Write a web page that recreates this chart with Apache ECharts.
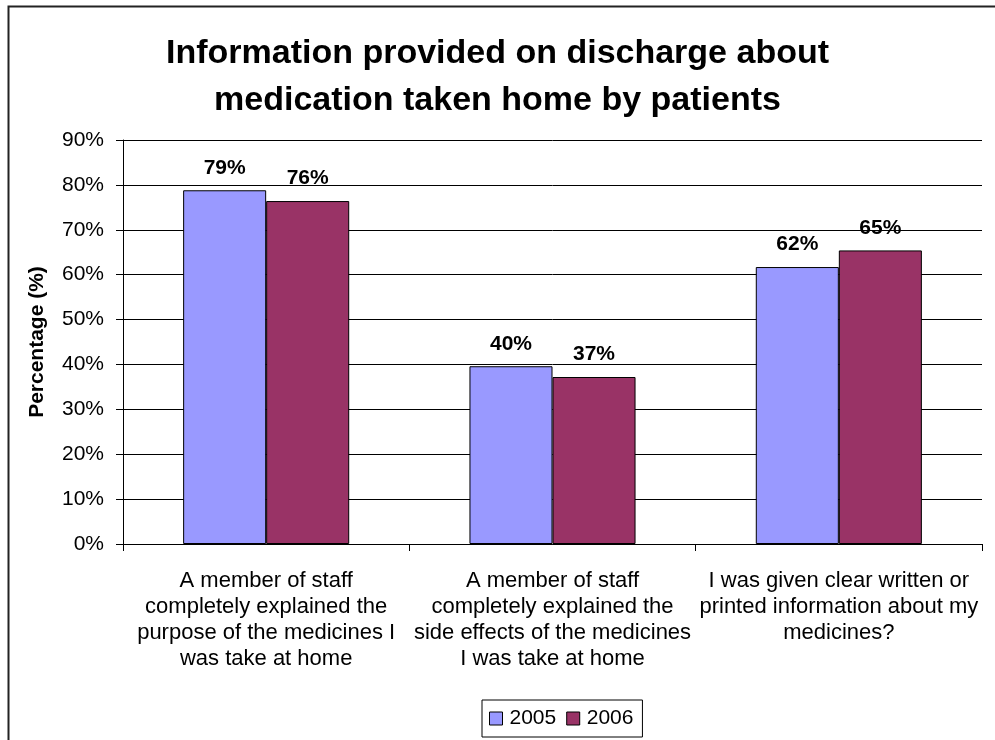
<!DOCTYPE html>
<html><head><meta charset="utf-8">
<script src="https://cdn.jsdelivr.net/npm/echarts@6/dist/echarts.min.js"></script>
<style>html,body{margin:0;padding:0;background:#fff}#c{width:995px;height:740px}</style>
</head><body><div id="c"></div>
<script>
var categories = [
  "A member of staff\ncompletely explained the\npurpose of the medicines I\nwas take at home",
  "A member of staff\ncompletely explained the\nside effects of the medicines\nI was take at home",
  "I was given clear written or\nprinted information about my\nmedicines?"
];
var seriesNames = ["2005", "2006"];
var values2005 = [78.8, 39.6, 61.7];
var values2006 = [76.4, 37.2, 65.4];
var labels2005 = ["79%", "40%", "62%"];
var labels2006 = ["76%", "37%", "65%"];
var yTicks = [0, 10, 20, 30, 40, 50, 60, 70, 80, 90];

var font = "Liberation Sans, Arial, sans-serif";
var chart = echarts.init(document.getElementById('c'), null, {renderer: 'canvas'});
function mkSeries(name, data, labels, color) {
  return {
    name: name, type: 'bar', data: data, barGap: '0%', barCategoryGap: '42%',
    itemStyle: {color: color, borderColor: '#000', borderWidth: 1},
    label: {show: true, position: 'top', distance: 12, fontFamily: font, fontSize: 21, fontWeight: 'bold', color: '#000',
      formatter: function (p) { return labels[p.dataIndex]; }}
  };
}
chart.setOption({
  animation: false,
  backgroundColor: '#fff',
  title: {
    text: 'Information provided on discharge about\nmedication taken home by patients',
    left: 'center', top: 25,
    textStyle: {fontFamily: font, fontSize: 34, fontWeight: 'bold', color: '#000', lineHeight: 47}
  },
  graphic: [{type: 'rect', left: 6, top: 4, shape: {width: 1000, height: 800}, style: {fill: 'none', stroke: '#222', lineWidth: 2}, silent: true}],
  legend: {
    data: seriesNames, left: 482, top: 700, itemWidth: 13, itemHeight: 13, itemGap: 10,
    padding: [8, 9, 8, 7], borderColor: '#000', borderWidth: 1,
    textStyle: {fontFamily: font, fontSize: 21, color: '#000', padding: [0, 0, 0, 2]},
    icon: 'rect', itemStyle: {borderColor: '#000', borderWidth: 1}
  },
  grid: {left: 123, right: 13, top: 140, bottom: 196, containLabel: false},
  xAxis: {
    type: 'category', data: categories,
    axisLine: {lineStyle: {color: '#000', width: 1}},
    axisTick: {show: true, length: 7, lineStyle: {color: '#000'}},
    axisLabel: {fontFamily: font, fontSize: 22, color: '#000', lineHeight: 26, margin: 24, interval: 0}
  },
  yAxis: {
    type: 'value', min: 0, max: 90, interval: 10,
    name: 'Percentage (%)', nameLocation: 'middle', nameGap: 75,
    nameTextStyle: {fontFamily: font, fontSize: 21, fontWeight: 'bold', color: '#000'},
    axisLine: {show: true, lineStyle: {color: '#000'}},
    axisTick: {show: true, length: 7, lineStyle: {color: '#000'}},
    splitLine: {show: true, lineStyle: {color: '#000', width: 1}},
    axisLabel: {fontFamily: font, fontSize: 21, color: '#000', margin: 19,
      formatter: function (v) { return yTicks.indexOf(v) >= 0 ? v + '%' : ''; }}
  },
  series: [
    mkSeries(seriesNames[0], values2005, labels2005, '#9999ff'),
    mkSeries(seriesNames[1], values2006, labels2006, '#993366')
  ]
});
</script></body></html>
